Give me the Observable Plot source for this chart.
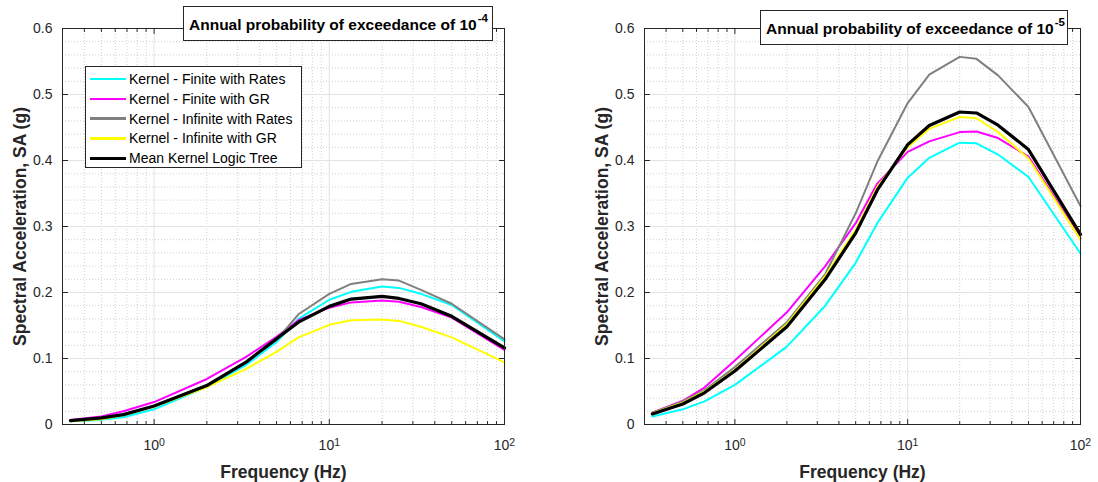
<!DOCTYPE html>
<html>
<head>
<meta charset="utf-8">
<script src="https://cdn.jsdelivr.net/npm/d3@7"></script>
<script src="https://cdn.jsdelivr.net/npm/@observablehq/plot@0.6"></script>
<style>
  html, body { margin: 0; padding: 0; background: #fff; }
  #wrap { position: relative; width: 1098px; height: 482px; overflow: hidden; font-family: "Liberation Sans", Arial, sans-serif; }
  .panel { position: absolute; top: 0; }
  .title { position: absolute; background: #fff; border: 1px solid #262626; box-sizing: border-box;
           font-weight: bold; font-size: 15.5px; color: #000; padding-left: 5px; line-height: 35px; white-space: nowrap; }
  .title sup { font-size: 11.5px; vertical-align: 0; position: relative; top: -8px; margin-left: 1px; }
  .legend { position: absolute; background: #fff; border: 1px solid #262626; box-sizing: border-box; }
  .legend .row { position: absolute; left: 0; height: 20px; font-size: 14px; color: #000; white-space: nowrap; }
  .legend .sw { position: absolute; left: 4px; width: 36px; }
  .legend .lab { position: absolute; left: 43px; top: 0; line-height: 20px; }
</style>
</head>
<body>
<div id="wrap"></div>
<script>
// ---- data ----
const freq = [0.333, 0.5, 0.667, 1, 2, 3.333, 5, 6.667, 10, 13.333, 20, 25, 33.333, 50, 100];

const seriesNames = ["Kernel - Finite with Rates", "Kernel - Finite with GR", "Kernel - Infinite with Rates", "Kernel - Infinite with GR", "Mean Kernel Logic Tree"];
const seriesColors = ["#00ffff", "#ff00ff", "#808080", "#ffff00", "#000000"];

// Annual probability of exceedance 1e-4
const p4FiniteRates   = [0.005, 0.007, 0.011, 0.023, 0.057, 0.090, 0.125, 0.160, 0.189, 0.201, 0.209, 0.207, 0.198, 0.181, 0.126];
const p4FiniteGR      = [0.007, 0.012, 0.020, 0.034, 0.069, 0.102, 0.133, 0.158, 0.177, 0.185, 0.188, 0.186, 0.178, 0.162, 0.113];
const p4InfiniteRates = [0.006, 0.009, 0.015, 0.028, 0.060, 0.095, 0.128, 0.167, 0.198, 0.213, 0.220, 0.218, 0.204, 0.183, 0.129];
const p4InfiniteGR    = [0.005, 0.008, 0.014, 0.027, 0.0565, 0.084, 0.110, 0.132, 0.151, 0.158, 0.159, 0.157, 0.148, 0.132, 0.094];
const p4Mean          = [0.006, 0.010, 0.015, 0.028, 0.059, 0.094, 0.130, 0.155, 0.179, 0.190, 0.194, 0.191, 0.183, 0.164, 0.116];

// Annual probability of exceedance 1e-5
const p5FiniteRates   = [0.012, 0.023, 0.035, 0.060, 0.118, 0.180, 0.245, 0.305, 0.374, 0.404, 0.427, 0.426, 0.409, 0.375, 0.259];
const p5FiniteGR      = [0.018, 0.036, 0.056, 0.097, 0.170, 0.240, 0.305, 0.365, 0.413, 0.429, 0.443, 0.444, 0.434, 0.406, 0.282];
const p5InfiniteRates = [0.018, 0.035, 0.052, 0.087, 0.155, 0.228, 0.320, 0.398, 0.487, 0.530, 0.557, 0.554, 0.529, 0.481, 0.331];
const p5InfiniteGR    = [0.017, 0.033, 0.050, 0.083, 0.152, 0.225, 0.295, 0.360, 0.420, 0.448, 0.466, 0.464, 0.443, 0.403, 0.280];
const p5Mean          = [0.016, 0.031, 0.048, 0.081, 0.148, 0.220, 0.290, 0.355, 0.424, 0.453, 0.4735, 0.472, 0.4535, 0.4166, 0.288];

const xMajorTicks = [1, 10, 100];
const xMinorTicks = [0.4, 0.5, 0.6, 0.7, 0.8, 0.9, 2, 3, 4, 5, 6, 7, 8, 9, 20, 30, 40, 50, 60, 70, 80, 90];
const yMajorTicks = [0, 0.1, 0.2, 0.3, 0.4, 0.5, 0.6];
const yMinorTicks = [0.02, 0.04, 0.06, 0.08, 0.12, 0.14, 0.16, 0.18, 0.22, 0.24, 0.26, 0.28, 0.32, 0.34, 0.36, 0.38, 0.42, 0.44, 0.46, 0.48, 0.52, 0.54, 0.56, 0.58];

const xLabel = "Frequency (Hz)";
const yLabel = "Spectral Acceleration, SA (g)";
const titles = [["Annual probability of exceedance of 10", "-4"], ["Annual probability of exceedance of 10", "-5"]];

function toRows(arrays) {
  const rows = [];
  arrays.forEach((vals, s) => vals.forEach((v, i) => rows.push({series: s, f: freq[i], v})));
  return rows;
}

const tickUp = {draw(ctx, l) { ctx.moveTo(0, 0); ctx.lineTo(0, -l); }};

function panel(arrays, {width, marginLeft, marginRight}) {
  const rows = toRows(arrays);
  const lineMarks = [0, 1, 2, 3, 4].map(s =>
    Plot.line(rows.filter(d => d.series === s), {
      x: "f", y: "v", stroke: seriesColors[s], strokeWidth: s === 4 ? 3.2 : 2, strokeLinejoin: "round"
    })
  );
  const tickStyle = {stroke: "#262626", strokeWidth: 1, shape: tickUp, anchor: "start"};
  const svg = Plot.plot({
    width, height: 482, marginTop: 28, marginBottom: 58, marginLeft, marginRight,
    x: {type: "log", domain: [0.3, 100]},
    y: {domain: [0, 0.6]},
    style: {fontFamily: "'Liberation Sans', Arial, sans-serif", fontSize: "14px", color: "#262626", background: "transparent"},
    marks: [
      Plot.ruleX(xMinorTicks, {stroke: "#c4c4c4", strokeDasharray: "1,2", strokeWidth: 0.8}),
      Plot.ruleY(yMinorTicks, {stroke: "#c4c4c4", strokeDasharray: "1,2", strokeWidth: 0.8}),
      Plot.ruleX(xMajorTicks, {stroke: "#e2e2e2", strokeWidth: 1}),
      Plot.ruleY(yMajorTicks, {stroke: "#e2e2e2", strokeWidth: 1}),
      ...lineMarks,
      Plot.frame({stroke: "#262626", strokeWidth: 1}),
      // inward ticks
      Plot.vector(xMajorTicks, {x: d => d, frameAnchor: "bottom", length: 5, rotate: 0, ...tickStyle}),
      Plot.vector(xMajorTicks, {x: d => d, frameAnchor: "top", length: 5, rotate: 180, ...tickStyle}),
      Plot.vector(xMinorTicks, {x: d => d, frameAnchor: "bottom", length: 3, rotate: 0, ...tickStyle}),
      Plot.vector(xMinorTicks, {x: d => d, frameAnchor: "top", length: 3, rotate: 180, ...tickStyle}),
      Plot.vector(yMajorTicks, {y: d => d, frameAnchor: "left", length: 5, rotate: 90, ...tickStyle}),
      Plot.vector(yMajorTicks, {y: d => d, frameAnchor: "right", length: 5, rotate: -90, ...tickStyle}),
      Plot.axisX(xMajorTicks, {tickSize: 0, tickPadding: 16, label: null, fontSize: 14, tickFormat: d => String(Math.round(Math.log10(d)))}),
      Plot.axisY(yMajorTicks, {tickSize: 0, tickPadding: 10, label: null, fontSize: 14, tickFormat: d => d === 0 ? "0" : d.toFixed(1)}),
      Plot.text([xLabel], {frameAnchor: "bottom", dy: 53, fontWeight: "bold", fontSize: 17.5, fill: "#262626"}),
      Plot.text([yLabel], {frameAnchor: "left", textAnchor: "middle", dx: -42, rotate: -90, fontWeight: "bold", fontSize: 17.5, fill: "#262626"})
    ]
  });
  // render x tick labels as 10 with superscript exponent
  d3.select(svg).selectAll('g[aria-label="x-axis tick label"] text').each(function() {
    const t = d3.select(this);
    const exp = t.text();
    t.text(null);
    t.append("tspan").text("10");
    t.append("tspan").attr("dy", "-0.45em").attr("font-size", "10.5px").text(exp);
  });
  return svg;
}

const wrap = document.getElementById("wrap");

const left = panel([p4FiniteRates, p4FiniteGR, p4InfiniteRates, p4InfiniteGR, p4Mean], {width: 540, marginLeft: 62, marginRight: 36});
left.classList.add("panel"); left.style.left = "0px";
wrap.appendChild(left);

const right = panel([p5FiniteRates, p5FiniteGR, p5InfiniteRates, p5InfiniteGR, p5Mean], {width: 518, marginLeft: 64, marginRight: 18});
right.classList.add("panel"); right.style.left = "580px";
wrap.appendChild(right);

function addTitle(t, pos) {
  const div = document.createElement("div");
  div.className = "title";
  Object.assign(div.style, pos);
  div.append(t[0]);
  const sup = document.createElement("sup");
  sup.textContent = t[1];
  div.appendChild(sup);
  wrap.appendChild(div);
}
addTitle(titles[0], {left: "183px", top: "6px", width: "310px", height: "35px"});
addTitle(titles[1], {left: "760px", top: "10px", width: "308px", height: "35px"});

// legend
const leg = document.createElement("div");
leg.className = "legend";
Object.assign(leg.style, {left: "85px", top: "66px", width: "217px", height: "102px"});
seriesNames.forEach((name, i) => {
  const row = document.createElement("div");
  row.className = "row";
  row.style.top = (2 + i * 19.8) + "px";
  const sw = document.createElement("div");
  sw.className = "sw";
  const h = i === 4 ? 3.2 : 2.4;
  Object.assign(sw.style, {top: (10 - h / 2) + "px", height: h + "px", background: seriesColors[i]});
  const lab = document.createElement("div");
  lab.className = "lab";
  lab.textContent = name;
  row.appendChild(sw); row.appendChild(lab);
  leg.appendChild(row);
});
wrap.appendChild(leg);
</script>
</body>
</html>
